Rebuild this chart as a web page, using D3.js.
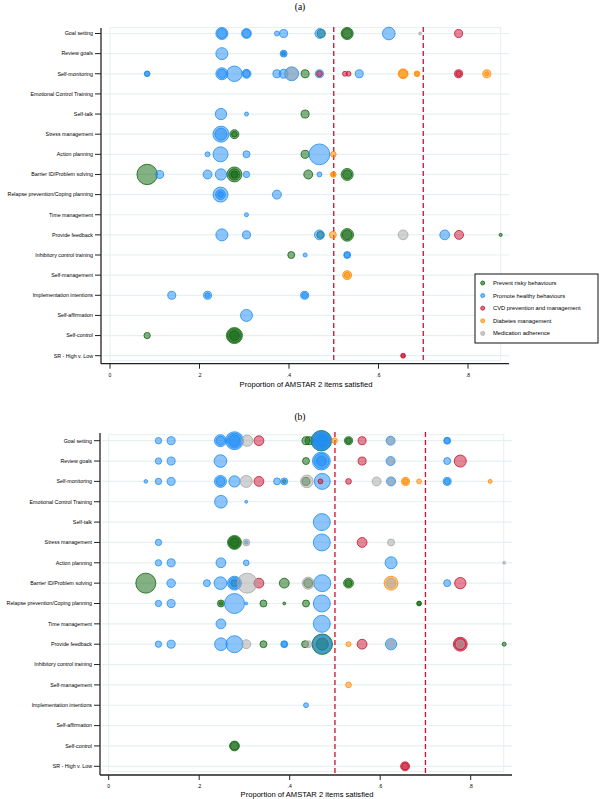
<!DOCTYPE html>
<html>
<head>
<meta charset="utf-8">
<script src="https://cdn.jsdelivr.net/npm/d3@7"></script>
<style>
  body { margin: 0; background: #fff; }
  svg { display: block; font-family: "Liberation Sans", Arial, sans-serif; }
</style>
</head>
<body>
<svg id="chart" width="600" height="799"></svg>
<script>
'use strict';

var categories = [
  'Goal setting', 'Review goals', 'Self-monitoring', 'Emotional Control Training',
  'Self-talk', 'Stress management', 'Action planning', 'Barrier ID/Problem solving',
  'Relapse prevention/Coping planning', 'Time management', 'Provide feedback',
  'Inhibitory control training', 'Self-management', 'Implementation intentions',
  'Self-affirmation', 'Self-control', 'SR - High v. Low'
];

var groups = ['risk', 'healthy', 'cvd', 'diab', 'med'];
var groupLabels = [
  'Prevent risky behaviours', 'Promote healthy behaviours',
  'CVD prevention and management', 'Diabetes management', 'Medication adherence'
];
var groupColors = ['#0a640a', '#1c8cf5', '#c8102e', '#ff8a00', '#a6a6a6'];

var xTicks = [0, .2, .4, .6, .8];
var xTickLabels = ['0', '.2', '.4', '.6', '.8'];
var cutoffs = [.5, .7];

// [category index, proportion, size, group]
var bubblesA = [
  [0, .25, 9, 'healthy'], [0, .25, 6, 'healthy'], [0, .305, 6, 'healthy'], [0, .305, 4, 'healthy'],
  [0, .373, 1.5, 'healthy'], [0, .388, 4, 'healthy'], [0, .469, 6, 'healthy'], [0, .472, 4, 'risk'],
  [0, .53, 9, 'risk'], [0, .53, 6, 'risk'], [0, .623, 10, 'healthy'], [0, .693, .5, 'med'], [0, .779, 4, 'cvd'],
  [1, .25, 9, 'healthy'], [1, .388, 3, 'healthy'], [1, .388, 1.5, 'healthy'], [1, .388, .5, 'risk'],
  [2, .083, 2, 'healthy'], [2, .083, 1.5, 'healthy'], [2, .25, 9, 'healthy'], [2, .25, 5, 'healthy'],
  [2, .278, 15, 'healthy'], [2, .305, 5, 'healthy'], [2, .305, 3, 'healthy'], [2, .373, 4, 'healthy'],
  [2, .388, 5, 'healthy'], [2, .406, 12, 'healthy'], [2, .406, 9, 'med'], [2, .436, 4, 'risk'],
  [2, .468, 4, 'healthy'], [2, .468, 2, 'cvd'], [2, .525, 1.5, 'cvd'], [2, .533, 1.5, 'cvd'],
  [2, .557, 4, 'healthy'], [2, .655, 6, 'diab'], [2, .655, 4, 'diab'], [2, .686, 2, 'diab'],
  [2, .686, 1, 'diab'], [2, .779, 4, 'cvd'], [2, .779, 2, 'cvd'], [2, .842, 4, 'diab'], [2, .842, 1, 'diab'],
  [4, .248, 8, 'healthy'], [4, .305, 1, 'healthy'], [4, .436, 4, 'risk'],
  [5, .248, 16, 'healthy'], [5, .248, 9, 'healthy'], [5, .278, 5, 'risk'], [5, .278, 2, 'risk'],
  [6, .218, 1.5, 'healthy'], [6, .247, 14, 'healthy'], [6, .305, 3, 'healthy'], [6, .436, 4, 'risk'],
  [6, .468, 27, 'healthy'], [6, .499, 2, 'diab'],
  [7, .083, 26, 'risk'], [7, .111, 4, 'healthy'], [7, .218, 5, 'healthy'], [7, .248, 8, 'healthy'],
  [7, .278, 14, 'risk'], [7, .278, 8, 'risk'], [7, .278, 3, 'risk'], [7, .305, 2.5, 'healthy'],
  [7, .443, 5, 'risk'], [7, .468, 1.5, 'healthy'], [7, .499, 2, 'diab'], [7, .499, 1, 'diab'],
  [7, .53, 9, 'risk'], [7, .53, 5, 'risk'],
  [8, .247, 14, 'healthy'], [8, .247, 6, 'healthy'], [8, .247, 2, 'healthy'], [8, .373, 5, 'healthy'],
  [9, .305, 1, 'healthy'],
  [10, .25, 9, 'healthy'], [10, .305, 4, 'healthy'], [10, .468, 6, 'healthy'], [10, .47, 3, 'risk'],
  [10, .498, 3, 'diab'], [10, .53, 10, 'risk'], [10, .53, 6, 'risk'], [10, .655, 6, 'med'],
  [10, .748, 6, 'healthy'], [10, .78, 5, 'cvd'], [10, .873, .6, 'risk'],
  [11, .405, 3, 'risk'], [11, .436, 1, 'healthy'], [11, .53, 3, 'healthy'], [11, .53, 2, 'healthy'],
  [12, .53, 5, 'diab'], [12, .53, 2, 'diab'],
  [13, .138, 4, 'healthy'], [13, .218, 4, 'healthy'], [13, .218, 1.5, 'healthy'],
  [13, .435, 4, 'healthy'], [13, .435, 2, 'healthy'],
  [14, .305, 9, 'healthy'],
  [15, .083, 2.5, 'risk'], [15, .278, 16, 'risk'], [15, .278, 12, 'risk'], [15, .278, 6, 'risk'],
  [16, .655, 1.5, 'cvd'], [16, .655, .8, 'cvd']
];

var bubblesB = [
  [0, .11, 2.5, 'healthy'], [0, .138, 4, 'healthy'], [0, .247, 9, 'healthy'], [0, .247, 5, 'healthy'],
  [0, .278, 20, 'healthy'], [0, .278, 14, 'healthy'], [0, .278, 8, 'healthy'], [0, .306, 8, 'med'],
  [0, .332, 6, 'cvd'], [0, .436, 4, 'risk'], [0, .443, 4, 'risk'], [0, .47, 26, 'risk'],
  [0, .47, 24, 'healthy'], [0, .47, 18, 'healthy'], [0, .47, 12, 'healthy'], [0, .47, 6, 'healthy'],
  [0, .499, 2, 'diab'], [0, .53, 4, 'risk'],
  [0, .53, 2, 'risk'], [0, .56, 4, 'cvd'], [0, .623, 5, 'healthy'], [0, .623, 3, 'med'],
  [0, .748, 3, 'healthy'], [0, .748, 2, 'healthy'],
  [1, .11, 2.5, 'healthy'], [1, .138, 4, 'healthy'], [1, .247, 10, 'healthy'], [1, .436, 3, 'risk'],
  [1, .47, 20, 'healthy'], [1, .47, 14, 'healthy'], [1, .47, 6, 'healthy'], [1, .56, 4, 'cvd'],
  [1, .623, 5, 'healthy'], [1, .623, 3, 'med'], [1, .748, 3, 'healthy'], [1, .777, 9, 'cvd'],
  [2, .082, .8, 'healthy'], [2, .11, 2.5, 'healthy'], [2, .138, 4, 'healthy'], [2, .247, 9, 'healthy'],
  [2, .247, 5, 'healthy'], [2, .278, 8, 'healthy'], [2, .304, 9, 'med'], [2, .332, 6, 'cvd'],
  [2, .372, 3, 'healthy'], [2, .388, 3, 'healthy'], [2, .388, .8, 'risk'], [2, .438, 10, 'med'],
  [2, .436, 4, 'risk'], [2, .472, 16, 'healthy'], [2, .468, 1.5, 'cvd'], [2, .53, 2, 'cvd'],
  [2, .592, 5, 'med'], [2, .624, 5, 'healthy'], [2, .624, 3, 'med'], [2, .656, 4, 'diab'],
  [2, .656, 2, 'diab'], [2, .686, 1.5, 'diab'], [2, .748, 4, 'healthy'], [2, .748, 2, 'healthy'],
  [2, .843, 1, 'diab'],
  [3, .248, 10, 'healthy'], [3, .304, .5, 'healthy'],
  [4, .471, 18, 'healthy'],
  [5, .11, 2.5, 'healthy'], [5, .278, 12, 'risk'], [5, .278, 9, 'risk'], [5, .278, 5, 'risk'],
  [5, .304, 3, 'med'], [5, .304, .8, 'healthy'], [5, .471, 18, 'healthy'], [5, .56, 6, 'cvd'],
  [5, .624, 3, 'med'],
  [6, .11, 2.5, 'healthy'], [6, .138, 4, 'healthy'], [6, .248, 6, 'healthy'], [6, .304, 2, 'healthy'],
  [6, .624, 9, 'healthy'], [6, .874, .5, 'med'],
  [7, .082, 25, 'risk'], [7, .138, 4.5, 'healthy'], [7, .217, 3, 'healthy'], [7, .247, 10, 'healthy'],
  [7, .278, 12, 'healthy'], [7, .278, 8, 'healthy'], [7, .278, 3, 'risk'], [7, .306, 25, 'med'],
  [7, .332, 6, 'cvd'], [7, .388, 6, 'risk'], [7, .441, 9, 'med'], [7, .441, 5, 'risk'],
  [7, .472, 18, 'healthy'], [7, .53, 6, 'risk'], [7, .53, 3, 'risk'], [7, .624, 12, 'diab'],
  [7, .624, 6, 'med'], [7, .748, 3, 'healthy'], [7, .777, 8, 'cvd'],
  [8, .11, 2.5, 'healthy'], [8, .138, 4, 'healthy'], [8, .248, 3, 'risk'], [8, .248, .8, 'risk'],
  [8, .278, 25, 'healthy'], [8, .304, .5, 'healthy'], [8, .342, 3, 'risk'], [8, .388, .5, 'risk'],
  [8, .436, 3, 'risk'], [8, .471, 18, 'healthy'], [8, .686, 1.5, 'risk'], [8, .686, .8, 'risk'],
  [9, .248, 6, 'healthy'], [9, .471, 18, 'healthy'],
  [10, .11, 2.5, 'healthy'], [10, .138, 4, 'healthy'], [10, .248, 10, 'healthy'], [10, .278, 18, 'healthy'],
  [10, .304, 5, 'med'], [10, .342, 3, 'risk'], [10, .388, 3, 'healthy'], [10, .388, 2, 'healthy'],
  [10, .434, 3, 'risk'], [10, .441, 3, 'med'], [10, .472, 26, 'risk'], [10, .472, 22, 'healthy'],
  [10, .472, 9, 'risk'], [10, .53, 1.5, 'diab'], [10, .56, 6, 'cvd'], [10, .624, 8, 'healthy'],
  [10, .624, 4, 'med'], [10, .777, 12, 'cvd'], [10, .777, 8, 'cvd'], [10, .777, 4, 'med'],
  [10, .874, 1, 'risk'],
  [12, .53, 2, 'diab'],
  [13, .436, 1.5, 'healthy'],
  [15, .278, 6, 'risk'], [15, .278, 4, 'risk'],
  [16, .655, 5, 'cvd'], [16, .655, 3, 'cvd']
];

var svg = d3.select('#chart');
var color = d3.scaleOrdinal().domain(groups).range(groupColors);
var size = d3.scaleSqrt().domain([0, 27]).range([0, 10.4]);

function drawPanel(p, bubbles) {
  var g = svg.append('g');

  var x = d3.scaleLinear().domain([0, .8]).range([p.x0, p.x8]);
  var y = d3.scalePoint().domain(categories).range([p.yFirst, p.yLast]);

  g.append('text')
    .attr('x', 300).attr('y', p.titleY)
    .attr('text-anchor', 'middle')
    .style('font-family', '"Liberation Serif", "Times New Roman", serif')
    .style('font-size', '9.5px')
    .text(p.title);

  // row grid
  g.selectAll('.grid')
    .data(categories)
    .enter().append('line')
    .attr('x1', p.axisX + 2).attr('x2', p.right)
    .attr('y1', function(d) { return y(d); })
    .attr('y2', function(d) { return y(d); })
    .attr('stroke', '#e6eff2').attr('stroke-width', 1.2);

  // faint plot region
  g.append('rect')
    .attr('x', x(0)).attr('y', p.yFirst - 6)
    .attr('width', x(.873) - x(0)).attr('height', p.yLast - p.yFirst + 11)
    .attr('fill', 'none').attr('stroke', '#e6eff2').attr('stroke-width', 1);

  g.selectAll('.cut')
    .data(cutoffs)
    .enter().append('line')
    .attr('x1', function(d) { return x(d); })
    .attr('x2', function(d) { return x(d); })
    .attr('y1', p.yTop).attr('y2', p.axisY)
    .attr('stroke', '#c8102e').attr('stroke-width', 1.3)
    .attr('stroke-dasharray', '5,3');

  var sorted = bubbles.slice().sort(function(a, b) {
    return groups.indexOf(a[3]) - groups.indexOf(b[3]);
  });

  g.selectAll('.bubble')
    .data(sorted)
    .enter().append('circle')
    .attr('cx', function(d) { return x(d[1]); })
    .attr('cy', function(d) { return y(categories[d[0]]); })
    .attr('r', function(d) { return size(d[2]); })
    .attr('fill', function(d) { return color(d[3]); })
    .attr('fill-opacity', 0.5)
    .attr('stroke', function(d) { return color(d[3]); })
    .attr('stroke-width', 0.8);

  // y axis
  g.append('line')
    .attr('x1', p.axisX).attr('x2', p.axisX)
    .attr('y1', p.yTop + 1).attr('y2', p.axisY)
    .attr('stroke', '#222').attr('stroke-width', 1.3);

  var yt = g.selectAll('.ytick')
    .data(categories)
    .enter().append('g')
    .attr('transform', function(d) { return 'translate(0,' + y(d) + ')'; });

  yt.append('line')
    .attr('x1', p.axisX - 6).attr('x2', p.axisX)
    .attr('stroke', '#222').attr('stroke-width', 1);

  yt.append('text')
    .attr('x', p.axisX - 8).attr('dy', '0.35em')
    .attr('text-anchor', 'end')
    .style('font-size', '5.3px')
    .text(function(d) { return d; });

  // x axis
  g.append('line')
    .attr('x1', p.axisX).attr('x2', p.right)
    .attr('y1', p.axisY).attr('y2', p.axisY)
    .attr('stroke', '#222').attr('stroke-width', 1.3);

  var xt = g.selectAll('.xtick')
    .data(xTicks)
    .enter().append('g')
    .attr('transform', function(d) { return 'translate(' + x(d) + ',' + p.axisY + ')'; });

  xt.append('line')
    .attr('y1', 0).attr('y2', 5)
    .attr('stroke', '#222').attr('stroke-width', 1);

  xt.append('text')
    .attr('y', 13).attr('text-anchor', 'middle')
    .style('font-size', '5px')
    .text(function(d, i) { return xTickLabels[i]; });

  g.append('text')
    .attr('x', (p.axisX + p.right) / 2 + 1).attr('y', p.axisTitleY)
    .attr('text-anchor', 'middle')
    .style('font-size', '7.6px')
    .text('Proportion of AMSTAR 2 items satisfied');
}

drawPanel({
  title: '(a)', titleY: 10,
  x0: 110, x8: 468, yFirst: 33.5, yLast: 355.7, yTop: 27,
  axisX: 101, axisY: 363.7, right: 509, axisTitleY: 387
}, bubblesA);

drawPanel({
  title: '(b)', titleY: 420,
  x0: 108.7, x8: 470.7, yFirst: 440.7, yLast: 766.3, yTop: 432,
  axisX: 100, axisY: 775, right: 512, axisTitleY: 797
}, bubblesB);

// legend (panel a)
var legend = svg.append('g').attr('transform', 'translate(475,274)');

legend.append('rect')
  .attr('width', 123).attr('height', 69)
  .attr('fill', '#fff').attr('stroke', '#111').attr('stroke-width', 1);

var items = legend.selectAll('.item')
  .data(groups)
  .enter().append('g')
  .attr('transform', function(d, i) { return 'translate(0,' + (9 + i * 12.6) + ')'; });

items.append('circle')
  .attr('cx', 7.7).attr('r', 2)
  .attr('fill', function(d) { return color(d); })
  .attr('fill-opacity', 0.6)
  .attr('stroke', function(d) { return color(d); })
  .attr('stroke-width', 0.8);

items.append('text')
  .attr('x', 18).attr('dy', '0.35em')
  .style('font-size', '5.8px')
  .text(function(d, i) { return groupLabels[i]; });
</script>
</body>
</html>
